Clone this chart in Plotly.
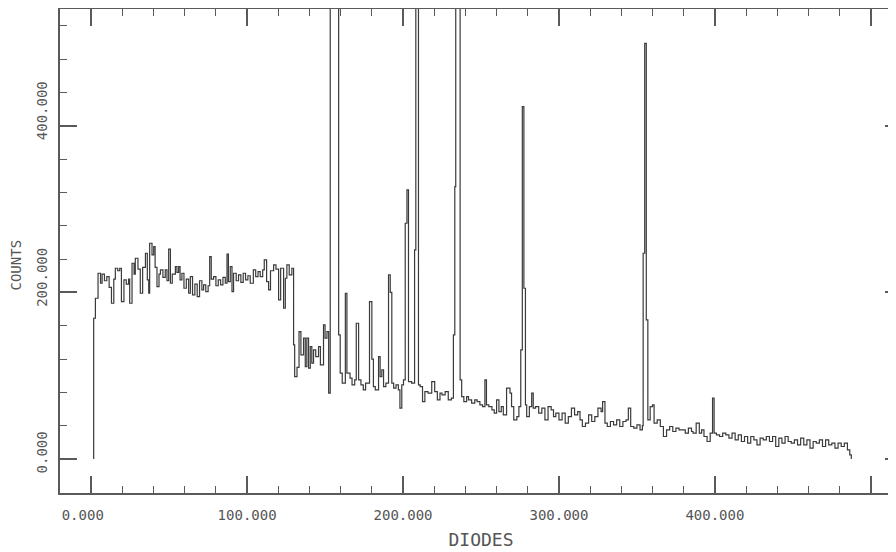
import plotly.graph_objects as go

# Step spectrum: each pair = (diode where the step starts, counts)
diodes = [
    1.6, 1.6, 2.7, 4.4, 6, 7, 8.5, 10, 11.5, 13, 14.5, 15.5, 17, 18.3, 19.4, 21, 22.5, 24, 24.7, 26.2,
    27.5, 28.3, 30, 31.5, 33, 34.8, 36, 36.9, 37.5, 39, 40.1, 41, 42.2, 43.5, 44.4, 46, 47.5, 48.6, 49.7, 50.8,
    52, 54, 55, 56.1, 57, 58.2, 59.5, 61, 62.5, 63.6, 65, 66.5, 68, 69.5, 71, 72.1, 73.5, 75, 76, 77,
    78.5, 80, 81.5, 83, 84.5, 86, 87.1, 88, 89.2, 90.3, 91.3, 93, 94.5, 96, 97.5, 99, 100.5, 102, 104, 105.5,
    107, 108.4, 110, 111, 112.5, 113.8, 115, 117, 118.5, 120.2, 121.5, 123.4, 124.5, 125.5, 127, 128.7, 129.8, 130.5, 132, 133.3,
    134.5, 136.2, 137.3, 138.3, 139.4, 140.5, 141.5, 142.6, 144, 145.8, 147, 149, 150, 151.2, 152.3, 153.3, 156, 158.7, 159.7, 161,
    163, 164, 166, 167.3, 169, 170, 171.5, 173, 174.5, 176, 178.5, 180, 181, 182.2, 184.3, 185.3, 186.4, 187.5, 189, 190.7,
    191.8, 192.8, 194, 195.5, 197, 198, 199.2, 200.3, 201.4, 202.5, 203.5, 205.5, 207.4, 208.2, 209.9, 211, 212.5, 214, 216, 218.4,
    220.3, 222, 223.7, 225, 227, 229, 231, 232.3, 233.2, 233.8, 236.6, 237.6, 239, 240.8, 242, 244, 246, 247.5, 249.3, 251,
    252.5, 253.5, 255, 257, 258.5, 260, 261.5, 263, 264.3, 266.4, 268.6, 269.6, 271, 273, 274.3, 275.5, 276.5, 277.5, 278.5, 279.3,
    281, 282.5, 283.5, 285, 287, 289, 291, 293, 295, 296.5, 298, 300, 302, 304, 306, 308, 310, 312, 313.5, 315,
    317, 319, 321, 323, 325, 327, 328, 329.5, 331, 333, 335, 337, 339, 341, 343, 344.5, 346, 348, 350, 352,
    353.5, 354, 355, 356, 357, 358.5, 360, 361, 363, 365, 367, 369, 371, 373, 375, 377, 379, 381, 383, 385,
    386, 388, 390, 391.5, 393, 395, 397, 398.5, 399.5, 401, 403, 405, 407, 409, 411, 413, 415, 417, 419, 421,
    423, 425, 427, 429, 431, 433, 435, 437, 439, 441, 443, 445, 447, 449, 451, 453, 455, 457, 459, 461,
    463, 465, 467, 469, 471, 473, 475, 477, 479, 481, 483, 485, 486.5, 487.5,
]
counts = [
    0, 169, 193, 223, 211, 222, 214, 219, 206, 187, 216, 229, 226, 229, 189, 215, 210, 216, 187, 235,
    222, 241, 228, 199, 230, 247, 215, 199, 259, 245, 255, 230, 207, 222, 227, 218, 227, 214, 252, 211,
    222, 231, 224, 231, 215, 223, 205, 216, 199, 219, 197, 210, 195, 214, 203, 209, 201, 208, 243, 216,
    219, 208, 215, 209, 218, 211, 246, 213, 231, 201, 223, 214, 221, 212, 223, 215, 220, 211, 227, 219,
    225, 219, 227, 239, 213, 203, 226, 233, 228, 191, 229, 181, 217, 233, 221, 229, 137, 99, 110, 153,
    125, 145, 111, 145, 109, 135, 115, 131, 123, 135, 113, 161, 145, 153, 79, 1300, 1300, 149, 103, 91,
    199, 103, 97, 89, 95, 163, 95, 89, 83, 91, 189, 120, 87, 83, 123, 99, 107, 87, 91, 221,
    200, 91, 85, 89, 83, 61, 89, 95, 283, 323, 93, 91, 251, 1300, 89, 87, 69, 81, 79, 93,
    81, 71, 79, 77, 81, 71, 73, 149, 327, 1300, 95, 75, 69, 75, 71, 67, 71, 69, 65, 63,
    95, 65, 63, 59, 55, 71, 57, 63, 53, 85, 79, 63, 47, 51, 63, 131, 423, 205, 65, 51,
    63, 79, 61, 63, 55, 61, 47, 63, 59, 51, 55, 47, 55, 43, 51, 61, 53, 57, 47, 39,
    43, 53, 45, 51, 61, 57, 69, 43, 39, 45, 41, 47, 39, 45, 47, 61, 39, 37, 41, 35,
    40, 247, 499, 167, 47, 63, 65, 43, 47, 39, 27, 35, 39, 33, 37, 35, 35, 31, 37, 33,
    31, 43, 31, 35, 27, 21, 31, 73, 31, 29, 27, 31, 29, 25, 31, 23, 29, 21, 27, 19,
    27, 23, 17, 25, 23, 27, 21, 27, 15, 25, 19, 27, 21, 19, 23, 17, 25, 17, 23, 13,
    21, 19, 23, 15, 23, 17, 19, 13, 19, 15, 19, 11, 5, 0,
]

x_tickvals = [0, 100, 200, 300, 400, 500]
x_ticktext = ["0.000\u00a0\u00a0", "100.000", "200.000", "300.000", "400.000", ""]
y_tickvals = [0, 200, 400]
y_ticktext = ["0.000\u00a0\u00a0", "200.000", "400.000"]

AX = "#5a5a5a"
TXT = "#555555"
MONO = "DejaVu Sans Mono"

fig = go.Figure()
fig.add_trace(go.Scatter(
    x=diodes, y=counts, mode="lines", line=dict(shape="hv", color="#3a3a3a", width=1.2),
    hoverinfo="skip", showlegend=False,
))

# the page body adds an 8px offset; margins compensate so the frame sits where the reference has it
fig.update_layout(
    width=896, height=552,
    margin=dict(l=52, r=2, t=1, b=67),
    paper_bgcolor="white", plot_bgcolor="white",
    font=dict(family=MONO, size=14, color=TXT),
    annotations=[dict(
        text="COUNTS", textangle=-90, showarrow=False,
        xref="paper", yref="paper", x=-0.0523, y=0.472,
        xanchor="center", yanchor="middle",
        font=dict(family=MONO, size=14, color=TXT),
    )],
)
fig.update_xaxes(
    range=[-20, 520], showgrid=False, zeroline=False, automargin=False,
    showline=True, linecolor=AX, linewidth=1.5, mirror="allticks",
    ticks="inside", ticklen=17, tickwidth=1.5, tickcolor=AX,
    tickvals=x_tickvals, ticktext=x_ticktext, ticklabelstandoff=8,
    tickfont=dict(family=MONO, size=14, color=TXT),
    minor=dict(ticks="inside", ticklen=7, tickwidth=1.3, tickcolor=AX, dtick=20, tick0=0, showgrid=False),
    title=dict(text="DIODES", font=dict(family=MONO, size=18, color=TXT), standoff=12),
)
fig.update_yaxes(
    range=[-40.8, 540.2], showgrid=False, zeroline=False, automargin=False,
    showline=True, linecolor=AX, linewidth=1.5, mirror="allticks",
    ticks="inside", ticklen=17, tickwidth=1.5, tickcolor=AX,
    tickvals=y_tickvals, ticktext=y_ticktext, tickangle=-90, ticklabelshift=-13, ticklabelstandoff=6,
    tickfont=dict(family=MONO, size=14, color=TXT),
    minor=dict(ticks="inside", ticklen=7, tickwidth=1.3, tickcolor=AX, dtick=40, tick0=0, showgrid=False),
)

fig.write_html("out.html")
